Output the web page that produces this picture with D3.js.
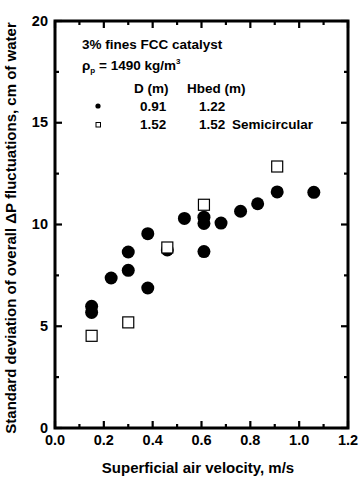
<!DOCTYPE html>
<html>
<head>
<meta charset="utf-8">
<script src="https://cdn.jsdelivr.net/npm/d3@7"></script>
<style>
  html, body { margin: 0; padding: 0; background: #fff; }
  svg { display: block; }
  text { font-family: "Liberation Sans", Arial, sans-serif; font-weight: bold; fill: #000; }
</style>
</head>
<body>
<svg id="chart" width="360" height="486"></svg>
<script>
// ---- data ----
const circleX = [0.15, 0.15, 0.23, 0.30, 0.30, 0.38, 0.38, 0.46, 0.53, 0.61, 0.61, 0.61, 0.68, 0.76, 0.83, 0.91, 1.06];
const circleY = [5.98, 5.68, 7.37, 8.65, 7.75, 9.55, 6.88, 8.75, 10.30, 10.36, 10.05, 8.67, 10.07, 10.65, 11.02, 11.60, 11.58];
const squareX = [0.15, 0.30, 0.46, 0.61, 0.91];
const squareY = [4.53, 5.19, 8.87, 10.97, 12.85];
const xTicks = [0.0, 0.2, 0.4, 0.6, 0.8, 1.0, 1.2];
const xMinor = [0.1, 0.3, 0.5, 0.7, 0.9, 1.1];
const yTicks = [0, 5, 10, 15, 20];
const yMinor = [2.5, 7.5, 12.5, 17.5];
const legendHeader = ["D (m)", "Hbed (m)"];
const legendRows = [["0.91", "1.22", ""], ["1.52", "1.52", "Semicircular"]];

const svg = d3.select("#chart");
const L = 55, R = 348, T = 21, B = 428;
const x = d3.scaleLinear().domain([0, 1.2]).range([L, R]);
const y = d3.scaleLinear().domain([0, 20]).range([B, T]);

// ticks (inward, all four sides)
const tickG = svg.append("g").attr("stroke", "#000").attr("stroke-width", 2.2);
function vt(v, len) {
  tickG.append("line").attr("x1", x(v)).attr("x2", x(v)).attr("y1", B).attr("y2", B - len);
  tickG.append("line").attr("x1", x(v)).attr("x2", x(v)).attr("y1", T).attr("y2", T + len);
}
function ht(v, len) {
  tickG.append("line").attr("y1", y(v)).attr("y2", y(v)).attr("x1", L).attr("x2", L + len);
  tickG.append("line").attr("y1", y(v)).attr("y2", y(v)).attr("x1", R).attr("x2", R - len);
}
xTicks.forEach(v => vt(v, 7));
xMinor.forEach(v => vt(v, 4));
yTicks.forEach(v => ht(v, 7));
yMinor.forEach(v => ht(v, 4));

// frame
svg.append("rect").attr("x", L).attr("y", T).attr("width", R - L).attr("height", B - T)
  .attr("fill", "none").attr("stroke", "#000").attr("stroke-width", 3);

// tick labels
svg.append("g").selectAll("text").data(xTicks).join("text")
  .attr("x", d => x(d)).attr("y", B + 17).attr("text-anchor", "middle")
  .attr("font-size", 14.5).text(d => d3.format(".1f")(d));
svg.append("g").selectAll("text").data(yTicks).join("text")
  .attr("x", L - 7).attr("y", d => y(d) + 4.5).attr("text-anchor", "end")
  .attr("font-size", 14.5).text(d => d);

// axis titles
svg.append("text").attr("x", 198).attr("y", 473).attr("text-anchor", "middle")
  .attr("font-size", 15).text("Superficial air velocity,  m/s");
svg.append("text").attr("transform", `translate(16,228) rotate(-90)`)
  .attr("text-anchor", "middle").attr("font-size", 15)
  .text("Standard deviation of overall  \u0394P fluctuations, cm of water");

// data marks
svg.append("g").selectAll("circle").data(circleX.map((v, i) => [v, circleY[i]])).join("circle")
  .attr("cx", d => x(d[0])).attr("cy", d => y(d[1])).attr("r", 6.5).attr("fill", "#000");
svg.append("g").selectAll("rect").data(squareX.map((v, i) => [v, squareY[i]])).join("rect")
  .attr("x", d => x(d[0]) - 5.5).attr("y", d => y(d[1]) - 5.5).attr("width", 11).attr("height", 11)
  .attr("fill", "#fff").attr("stroke", "#000").attr("stroke-width", 1.2);

// legend / annotations
const fs = 13.5;
svg.append("text").attr("x", 82).attr("y", 49).attr("font-size", fs).text("3% fines FCC catalyst");
const rho = svg.append("text").attr("x", 82).attr("y", 70).attr("font-size", fs);
rho.append("tspan").text("\u03C1");
rho.append("tspan").attr("font-size", 8).attr("dy", 3).text("p");
rho.append("tspan").attr("dy", -3).text(" = 1490 kg/m");
rho.append("tspan").attr("font-size", 8).attr("dy", -6).text("3");

svg.append("text").attr("x", 134).attr("y", 93).attr("font-size", fs).text(legendHeader[0]);
svg.append("text").attr("x", 187).attr("y", 93).attr("font-size", fs).text(legendHeader[1]);
const rowY = [111, 129];
legendRows.forEach((r, i) => {
  svg.append("text").attr("x", 140).attr("y", rowY[i]).attr("font-size", fs).text(r[0]);
  svg.append("text").attr("x", 199).attr("y", rowY[i]).attr("font-size", fs).text(r[1]);
  if (r[2]) svg.append("text").attr("x", 232).attr("y", rowY[i]).attr("font-size", fs).text(r[2]);
});
svg.append("circle").attr("cx", 98).attr("cy", 106).attr("r", 2.6).attr("fill", "#000");
svg.append("rect").attr("x", 96).attr("y", 122.5).attr("width", 4.5).attr("height", 4.5)
  .attr("fill", "#fff").attr("stroke", "#000").attr("stroke-width", 1);
</script>
</body>
</html>
